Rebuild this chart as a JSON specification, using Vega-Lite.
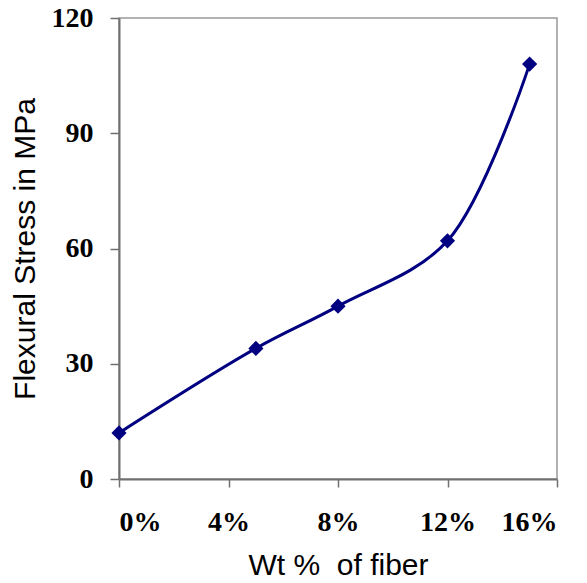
{
  "$schema": "https://vega.github.io/schema/vega-lite/v6.json",
  "width": 438,
  "height": 461,
  "autosize": {"type": "none"},
  "padding": {"left": 119, "top": 18, "right": 30, "bottom": 104},
  "background": "white",
  "config": {
    "view": {"stroke": "#999999", "strokeWidth": 1.5},
    "axis": {
      "grid": false,
      "domainColor": "#707070",
      "domainWidth": 2,
      "tickColor": "#707070",
      "tickWidth": 1.5,
      "labelFont": "Liberation Serif",
      "labelFontWeight": "bold",
      "labelFontSize": 28,
      "labelColor": "#000000",
      "titleFont": "Liberation Sans",
      "titleFontWeight": "normal",
      "titleFontSize": 30,
      "titleColor": "#000000"
    }
  },
  "data": {
    "values": [
      {"fiber": 0, "stress": 12},
      {"fiber": 5, "stress": 34},
      {"fiber": 8, "stress": 45},
      {"fiber": 12, "stress": 62},
      {"fiber": 15, "stress": 108}
    ]
  },
  "encoding": {
    "x": {
      "field": "fiber",
      "type": "quantitative",
      "scale": {"domain": [0, 16], "nice": false},
      "axis": {
        "values": [0, 4, 8, 12, 16],
        "labelExpr": "datum.value + '%'",
        "tickSize": 8,
        "labelPadding": 21,
        "title": "Wt %\u00a0 of fiber",
        "titlePadding": 14
      }
    },
    "y": {
      "field": "stress",
      "type": "quantitative",
      "scale": {"domain": [0, 120], "nice": false},
      "axis": {
        "values": [0, 30, 60, 90, 120],
        "tickSize": 9,
        "labelPadding": 17,
        "title": "Flexural Stress in MPa",
        "titlePadding": 11
      }
    }
  },
  "layer": [
    {"mark": {"type": "line", "interpolate": "catmull-rom", "color": "#000080", "strokeWidth": 3}},
    {"mark": {"type": "point", "shape": "diamond", "filled": true, "color": "#000080", "size": 230, "opacity": 1}}
  ]
}
